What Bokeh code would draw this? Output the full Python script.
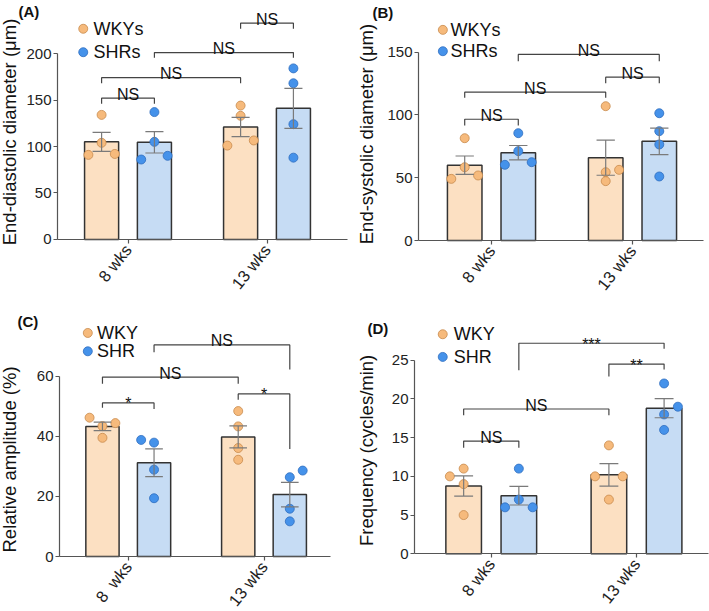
import math
from bokeh.plotting import figure
from bokeh.models import Range1d, FixedTicker, ColumnDataSource
from bokeh.layouts import column, row
from bokeh.embed import file_html
from bokeh.resources import INLINE
from bokeh.core.properties import value

FONT = "Liberation Sans"
WKY_BAR = "#FCE0C2"
SHR_BAR = "#C6DCF4"
WKY_PT = "#F6BA7C"
WKY_PT_LINE = "#C88A4C"
SHR_PT = "#4592EA"
SHR_PT_LINE = "#2E6DBF"
INK = "#333333"

# ---------------- data ----------------
groups = ["8 wks", "13 wks"]
groups_c = ["8\u00a0 wks", "13 wks"]

# Panel A: end-diastolic diameter (um)
a_wky_mean = [105, 121]
a_wky_sem = [10.2, 10.3]
a_shr_mean = [104.5, 141]
a_shr_sem = [11.5, 21.6]
a_wky_pts = [[134, 104, 91, 92], [144, 133, 101, 106.5]]
a_shr_pts = [[137, 105, 86, 90], [184, 168, 124, 88]]
a_wky_jit = [[0, 0, -1, 1], [0, 0, -1, 1]]
a_shr_jit = [[0, 0, -1, 1], [0, 0, 0, 0]]
a_yticks = [0, 50, 100, 150, 200]
# (from bar, to bar, bracket height, left leg end, right leg end, label)
a_brackets = [(0, 1, 152, 146, 146, "NS"),
              (0, 2, 174, 168, 168, "NS"),
              (1, 3, 201, 195.4, 195.4, "NS"),
              (2, 3, 232.6, 226.6, 226.6, "NS")]

# Panel B: end-systolic diameter (um)
b_wky_mean = [60, 66]
b_wky_sem = [7.3, 14]
b_shr_mean = [70, 79]
b_shr_sem = [5.7, 10.6]
b_wky_pts = [[81.5, 58.4, 49.1, 51.8], [107, 54.4, 47.3, 56.3]]
b_shr_pts = [[85.5, 71.2, 60.3, 62.4], [101.4, 87.1, 76.5, 51]]
b_wky_jit = [[0, 0, -1, 1], [0, 0, 0, 1]]
b_shr_jit = [[0, 0, -1, 1], [0, 0, 0, 0]]
b_yticks = [0, 50, 100, 150]
b_brackets = [(0, 1, 96.6, 91.6, 91.6, "NS"),
              (0, 2, 118.2, 113.7, 113.7, "NS"),
              (2, 3, 130.1, 125.3, 125.3, "NS"),
              (1, 3, 148.2, 142.8, 142.8, "NS")]

# Panel C: relative amplitude (%)
c_wky_mean = [43.3, 39.8]
c_wky_sem = [1.4, 3.65]
c_shr_mean = [31.2, 20.6]
c_shr_sem = [4.6, 4.05]
c_wky_pts = [[46.2, 43.4, 39.5, 44.4], [48.4, 43.3, 36.1, 32.2]]
c_shr_pts = [[38.8, 37.9, 28.9, 19.4], [26.4, 28.6, 15.9, 11.7]]
c_wky_jit = [[-1, 0, 0, 1], [0, 0, 0, 0]]
c_shr_jit = [[-1, 0, 0, 0], [0, 1, 0, 0]]
c_yticks = [0, 20, 40, 60]
c_brackets = [(0, 1, 51.1, 49.5, 49.1, "*"),
              (0, 2, 59.7, 57.5, 57.5, "NS"),
              (2, 3, 54.1, 52.2, 35.8, "*"),
              (1, 3, 70.4, 68.0, 62.2, "NS")]

# Panel D: frequency (cycles/min)
d_wky_mean = [8.75, 10.2]
d_wky_sem = [1.3, 1.45]
d_shr_mean = [7.5, 18.8]
d_shr_sem = [1.2, 1.23]
d_wky_pts = [[10, 11, 9, 5], [14, 10, 10, 7]]
d_shr_pts = [[11, 7, 6, 6], [22, 18, 16, 19]]
d_wky_jit = [[-1, 0, 0, 0], [0, -1, 1, 0]]
d_shr_jit = [[0, 0, -1, 1], [0, 0, 0, 1]]
d_yticks = [0, 5, 10, 15, 20, 25]
d_brackets = [(0, 1, 14.56, 13.7, 13.7, "NS"),
              (0, 2, 18.7, 17.9, 17.9, "NS"),
              (2, 3, 24.5, 22.9, 23.8, "**"),
              (1, 3, 27.2, 23.7, 26.5, "***")]

# ---------------- drawing ----------------
OFF = 0.19
BW = 0.245
JIT = 0.095
CAP = 0.065


def make_panel(tag, ylabel, yticks, wky_mean, wky_sem, shr_mean, shr_sem,
               wky_pts, wky_jit, shr_pts, shr_jit, brackets, leg_labels,
               xlabels, geo):
    p = figure(width=geo["w"], height=geo["h"],
               x_range=Range1d(*geo["xr"]), y_range=Range1d(*geo["yr"]),
               output_backend="svg", toolbar_location=None, title=None,
               min_border_left=0, min_border_right=0,
               min_border_top=0, min_border_bottom=0)
    p.outline_line_color = None
    p.grid.visible = False
    p.background_fill_color = "white"

    bar_x = [1 - OFF, 1 + OFF, 2 - OFF, 2 + OFF]
    series = [(wky_mean, wky_sem, wky_pts, wky_jit, -1, WKY_BAR, WKY_PT, WKY_PT_LINE),
              (shr_mean, shr_sem, shr_pts, shr_jit, 1, SHR_BAR, SHR_PT, SHR_PT_LINE)]
    for mean, sem, pts, jit, sgn, bar_c, pt_c, pt_l in series:
        cx = [1 + sgn * OFF, 2 + sgn * OFF]
        p.vbar(x=cx, top=mean, bottom=0, width=BW, fill_color=bar_c,
               line_color=INK, line_width=1.5)
    for mean, sem, pts, jit, sgn, bar_c, pt_c, pt_l in series:
        cx = [1 + sgn * OFF, 2 + sgn * OFF]
        px, py = [], []
        for g in range(2):
            for v, j in zip(pts[g], jit[g]):
                px.append(cx[g] + j * JIT)
                py.append(v)
        p.scatter(px, py, size=9, fill_color=pt_c, line_color=pt_l, line_width=0.8)
    for mean, sem, pts, jit, sgn, bar_c, pt_c, pt_l in series:
        cx = [1 + sgn * OFF, 2 + sgn * OFF]
        lo = [m - s for m, s in zip(mean, sem)]
        hi = [m + s for m, s in zip(mean, sem)]
        p.segment(x0=cx, y0=lo, x1=cx, y1=hi, line_color="#7a7a7a", line_width=1.2)
        p.segment(x0=[c - CAP for c in cx] * 2, y0=lo + hi,
                  x1=[c + CAP for c in cx] * 2, y1=lo + hi,
                  line_color="#7a7a7a", line_width=1.2)

    xs, ys, tx, ty, tt, toff = [], [], [], [], [], []
    for i, j, y, yl, yr, lab in brackets:
        xs.append([bar_x[i], bar_x[i], bar_x[j], bar_x[j]])
        ys.append([yl, y, y, yr])
        tx.append((bar_x[i] + bar_x[j]) / 2)
        ty.append(y)
        tt.append(lab)
        toff.append(-4 if lab == "NS" else 1)
    p.multi_line(xs, ys, line_color="#444444", line_width=1.2)
    src = ColumnDataSource(dict(x=tx, y=ty, t=tt, off=toff))
    p.text(x="x", y="y", text="t", y_offset="off", source=src,
           text_font=value(FONT), text_font_size="16px", text_align="center",
           text_baseline="alphabetic", text_color="#111111")

    mx, ltx, ly1, ly2 = geo["legend"]
    p.scatter([mx, mx], [ly1, ly2], size=9, fill_color=[WKY_PT, SHR_PT],
              line_color=[WKY_PT_LINE, SHR_PT_LINE], line_width=0.8)
    p.text([ltx, ltx], [ly1, ly2], text=leg_labels, text_font=value(FONT),
           text_font_size="18px", text_baseline="middle", text_align="left",
           text_color="#111111")

    tgx, tgy = geo["tag"]
    p.text([tgx], [tgy], text=[tag], text_font=value(FONT), text_font_size="15px",
           text_font_style="bold", text_baseline="top", text_align="left",
           text_color="#111111")

    # y-axis title (rotated text, centred where the reference puts it)
    lx, lyc = geo["ylab"]
    p.text([lx], [lyc], text=[ylabel], angle=math.pi / 2, text_font=value(FONT),
           text_font_size="18.5px", text_align="center", text_baseline="middle",
           text_color="#111111")

    for ax in (p.xaxis[0], p.yaxis[0]):
        ax.axis_line_color = "#555555"
        ax.axis_line_width = 1.2
        ax.major_tick_line_color = "#555555"
        ax.major_tick_line_width = 1.2
        ax.minor_tick_line_color = None
        ax.major_tick_in = 0
        ax.major_label_text_font = FONT
        ax.major_label_text_color = "#222222"
    p.xaxis.fixed_location = 0
    p.xaxis.ticker = FixedTicker(ticks=[1, 2])
    p.xaxis.major_label_overrides = {1: xlabels[0], 2: xlabels[1]}
    p.xaxis.major_label_orientation = 0.9
    p.xaxis.major_label_text_font_size = "16.5px"
    p.xaxis.major_tick_out = 4
    p.xaxis.major_label_standoff = 3
    p.xaxis.bounds = (geo["ax"], geo["axend"])
    p.yaxis.fixed_location = geo["ax"]
    p.yaxis.ticker = FixedTicker(ticks=yticks)
    p.yaxis.bounds = (0, yticks[-1])
    p.yaxis.major_tick_out = 4
    p.yaxis.major_label_standoff = 2
    p.yaxis.major_label_text_font_size = "15px"
    return p


pA = make_panel("(A)", "End-diastolic diameter (\u03bcm)", a_yticks,
                a_wky_mean, a_wky_sem, a_shr_mean, a_shr_sem,
                a_wky_pts, a_wky_jit, a_shr_pts, a_shr_jit, a_brackets,
                ["WKYs", "SHRs"], groups,
                dict(w=355, h=300, xr=(0.0827, 0.0827 + 355 / 139), yr=(-65.6, 257),
                     ax=0.4928, axend=2.579, ylab=(0.1475, 115.6),
                     legend=(0.678, 0.752, 226.6, 201.4), tag=(0.212, 253.8)))
pB = make_panel("(B)", "End-systolic diameter (\u03bcm)", b_yticks,
                b_wky_mean, b_wky_sem, b_shr_mean, b_shr_sem,
                b_wky_pts, b_wky_jit, b_shr_pts, b_shr_jit, b_brackets,
                ["WKYs", "SHRs"], groups,
                dict(w=354, h=300, xr=(0.0355, 0.0355 + 354 / 141), yr=(-47.8, 191.2),
                     ax=0.4823, axend=2.5036, ylab=(0.1135, 84.8),
                     legend=(0.655, 0.71, 167.8, 150.8), tag=(0.156, 188.8)))
pC = make_panel("(C)", "Relative amplitude (%)", c_yticks,
                c_wky_mean, c_wky_sem, c_shr_mean, c_shr_sem,
                c_wky_pts, c_wky_jit, c_shr_pts, c_shr_jit, c_brackets,
                ["WKY", "SHR"], groups_c,
                dict(w=355, h=311, xr=(0.0589, 0.0589 + 355 / 135.75), yr=(-18.3, 85.2),
                     ax=0.4936, axend=2.4899, ylab=(0.1252, 32.3),
                     legend=(0.702, 0.77, 74.4, 68.3), tag=(0.184, 80.9)))
pD = make_panel("(D)", "Frequency (cycles/min)", d_yticks,
                d_wky_mean, d_wky_sem, d_shr_mean, d_shr_sem,
                d_wky_pts, d_wky_jit, d_shr_pts, d_shr_jit, d_brackets,
                ["WKY", "SHR"], groups,
                dict(w=354, h=311, xr=(0.0654, 0.0654 + 354 / 145.25), yr=(-7.46, 32.72),
                     ax=0.4716, axend=2.4957, ylab=(0.1411, 13.36),
                     legend=(0.666, 0.742, 28.36, 25.43), tag=(0.148, 30.2)))

layout = column(row(pA, pB), row(pC, pD))
open("out.html", "w").write(file_html(layout, INLINE))
